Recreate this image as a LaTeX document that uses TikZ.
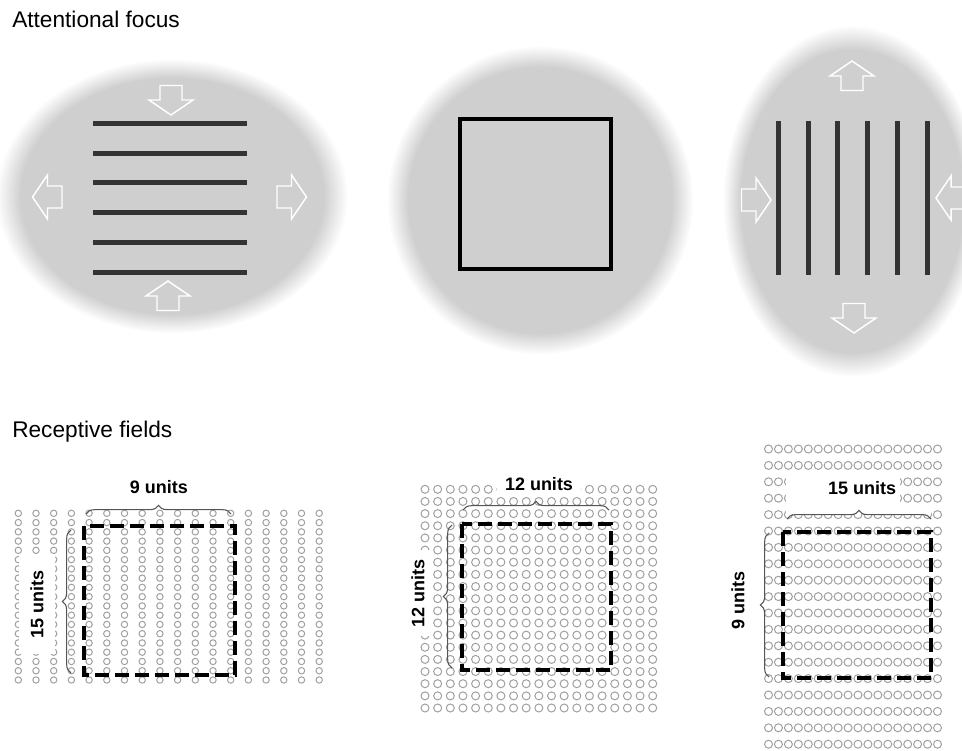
\documentclass[tikz,border=0pt]{standalone}
\usepackage{fontspec}
\setmainfont{Liberation Sans}
\usetikzlibrary{decorations.pathreplacing}
\definecolor{blobgray}{RGB}{207,207,207}
\definecolor{bargray}{RGB}{51,51,51}
\definecolor{dotgray}{RGB}{160,160,160}
\definecolor{bracegray}{RGB}{85,85,85}
\pgfdeclareradialshading{blobshade}{\pgfpoint{0bp}{0bp}}{color(0bp)=(blobgray); color(21.5bp)=(blobgray); color(25bp)=(white); color(50bp)=(white)}
\tikzset{
  blob/.style={shading=blobshade},
  bar/.style={draw=bargray, line width=3.75pt},
  barrow/.pic={\draw[white, line width=1.1pt, line join=miter] (-14.5,-11) -- (0,-11) -- (0,-22) -- (15,0) -- (0,22) -- (0,11) -- (-14.5,11) -- cycle;},
  dot/.style={draw=dotgray, line width=0.75pt},
  dashbox/.style={draw=black, line width=3.4pt, dash pattern=on 10.5pt off 4.5pt},
  brc/.style={decorate, decoration={brace, amplitude=6.5pt}, draw=bracegray, line width=0.8pt},
  ttl/.style={font=\fontsize{17}{20}\selectfont, inner sep=0pt, anchor=base west},
  lab/.style={font=\bfseries\fontsize{13.5}{16}\selectfont, inner sep=0pt},
}
\begin{document}
\begin{tikzpicture}[x=0.75pt,y=-0.75pt]
\useasboundingbox (0,0) rectangle (962,750);

% attentional focus blobs
\shade[blob] (172,196) ellipse [x radius=132pt, y radius=103pt];
\shade[blob] (540,200) ellipse [x radius=115pt, y radius=116pt];
\shade[blob] (852,201) ellipse [x radius=97pt, y radius=132pt];

% horizontal grating
\foreach \y in {123,153,182,212,242,272}
  \draw[bar] (93,\y) -- (247,\y);
% square
\draw[black, line width=3pt] (460,119) rectangle (611,269);
% vertical grating
\foreach \x in {778,808,837,867,897,927}
  \draw[bar] (\x,121) -- (\x,275);

% arrows left blob
\pic[rotate=-90] at (171,100) {barrow};
\pic[rotate=90] at (168,296) {barrow};
\pic[rotate=180] at (47.5,197) {barrow};
\pic at (291.5,197) {barrow};
% arrows right blob
\pic[rotate=90] at (852,76) {barrow};
\pic[rotate=-90] at (854,318) {barrow};
\pic at (756,200) {barrow};
\pic[rotate=180] at (951,198) {barrow};

% titles
\node[ttl] (t1) at (12,27) {Attentional focus};
\node[ttl] (t2) at (12,437) {Receptive fields};

% grids
\foreach \i in {0,...,17}{\foreach \j in {0,...,18}{
  \draw[dot] ({18.3+17.7*\i},{513.3+9.26*\j}) circle [radius=2.4pt];}}
\foreach \i in {0,...,18}{\foreach \j in {0,...,18}{
  \draw[dot] ({425+12.65*\i},{489.3+12.15*\j}) circle [radius=3pt];}}
\foreach \i in {0,...,17}{\foreach \j in {0,...,18}{
  \draw[dot] ({768.5+9.94*\i},{449+16.4*\j}) circle [radius=3pt];}}

% white patches behind right labels
\fill[white] (786,474) rectangle (900,514);
\fill[white] (900,506) rectangle (931,514);

% dashed boxes
\draw[dashbox] (84,526) rectangle (235,675);
\draw[dashbox] (462,524) rectangle (611,670);
\draw[dashbox] (783,532) rectangle (931,678);

% braces
\draw[brc] (86,514) -- (231,514);
\draw[brc] (71,673) -- (71,530);
\draw[brc] (463,510) -- (609,510);
\draw[brc] (452,668) -- (452,525);
\draw[brc] (787,519) -- (931,519);
\draw[brc] (769,677) -- (769,533);

% labels
\node[lab] (w9) at (159,487) {9 units};
\node[lab, rotate=90, fill=white, minimum width=75pt, minimum height=27pt] (h15) at (37,604) {15 units};
\node[lab, fill=white, inner xsep=6pt, inner ysep=3pt] (w12) at (539,484) {12 units};
\node[lab, rotate=90, fill=white, minimum width=65pt, minimum height=21pt] (h12) at (418,593) {12 units};
\node[lab] (w15) at (862,488) {15 units};
\node[lab, rotate=90] (h9) at (738,600) {9 units};
\end{tikzpicture}
\end{document}
